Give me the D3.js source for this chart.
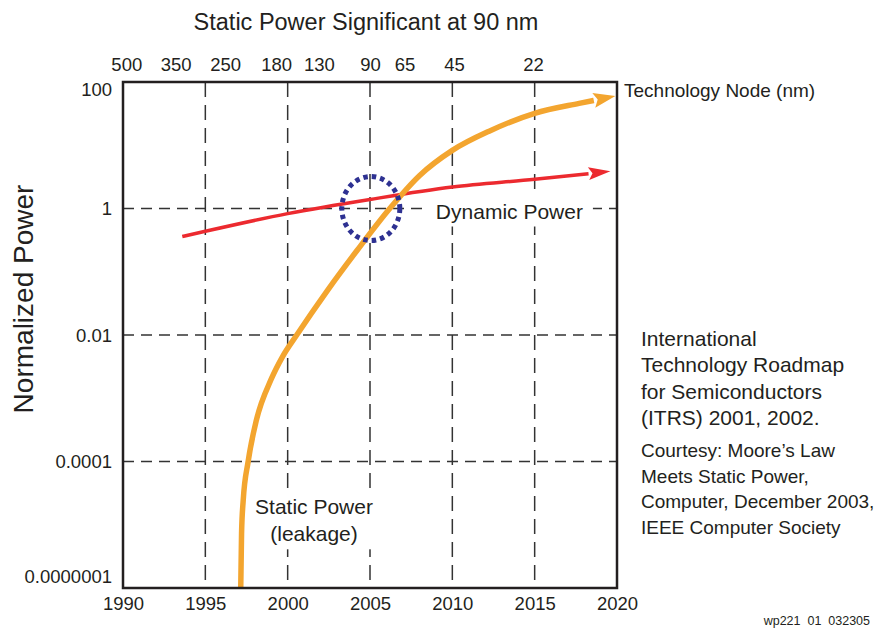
<!DOCTYPE html>
<html>
<head>
<meta charset="utf-8">
<script src="https://cdn.jsdelivr.net/npm/d3@7"></script>
<style>
  body { margin: 0; background: #fff; }
  text { font-family: "Liberation Sans", Arial, Helvetica, sans-serif; fill: #231f20; }
</style>
</head>
<body>
<script>
// data
let yearTicks = [1990, 1995, 2000, 2005, 2010, 2015, 2020];
let powerTicks = [1e-7, 1e-4, 1e-2, 1, 100];
let powerLabels = ["0.0000001", "0.0001", "0.01", "1", "100"];
let nodeLabels = ["500", "350", "250", "180", "130", "90", "65", "45", "22"];
let nodeYears = [1990.2, 1993.2, 1996.2, 1999.3, 2001.9, 2005, 2007.1, 2010.1, 2014.9];

let staticPower = [
    [1997.15, 1e-7], [1997.2, 2e-6], [1997.3, 1.2e-5], [1997.6, 1e-4],
    [1998.1, 4.5e-4], [1999.0, 2e-3], [1999.7, 4.6e-3], [2000.55, 0.01], [2002.4, 0.05], [2004.2, 0.215],
    [2006.2, 1], [2008.0, 3.3], [2010, 8.3], [2012.3, 17], [2015, 32], [2017.7, 46], [2019.9, 60]
];
let dynamicPower = [
    [1993.6, 0.36], [1995, 0.436], [2000, 0.83], [2005, 1.39], [2010, 2.18], [2015, 2.89], [2019.6, 3.87]
];

let SvgWidth = 878;
let SvgHeight = 629;

let Svg = d3.select("body")
    .append("svg")
    .attr("width", SvgWidth)
    .attr("height", SvgHeight);

let Plot = { Left: 123, Right: 617, Top: 82, Bottom: 588 };

let x = d3.scaleLinear()
    .domain([1990, 2020])
    .range([Plot.Left, Plot.Right]);

// the axis is not evenly logarithmic: each labelled tick is equally spaced
let y = d3.scaleLog()
    .domain(powerTicks)
    .range(d3.range(powerTicks.length).map(i => Plot.Bottom - i * (Plot.Bottom - Plot.Top) / (powerTicks.length - 1)));

let gridColor = "#333";

// vertical dashed grid
Svg.append("g")
    .selectAll("line")
    .data(yearTicks.slice(1, -1))
    .enter()
    .append("line")
    .attr("x1", d => x(d)).attr("x2", d => x(d))
    .attr("y1", Plot.Top).attr("y2", Plot.Bottom)
    .attr("stroke", gridColor)
    .attr("stroke-width", 1.5)
    .attr("stroke-dasharray", "15,8");

// horizontal dashed grid
Svg.append("g")
    .selectAll("line")
    .data(powerTicks.slice(1, -1))
    .enter()
    .append("line")
    .attr("x1", Plot.Left).attr("x2", Plot.Right)
    .attr("y1", d => y(d)).attr("y2", d => y(d))
    .attr("stroke", gridColor)
    .attr("stroke-width", 1.5)
    .attr("stroke-dasharray", "11,7");

// labels inside the plot sit on white patches that hide the grid
function boxedText(tx, ty, lines, size, anchor) {
    let g = Svg.append("g");
    let t = g.append("text")
        .attr("x", tx).attr("y", ty)
        .attr("text-anchor", anchor)
        .style("font-size", size + "px");
    lines.forEach((l, i) => {
        t.append("tspan").attr("x", tx).attr("dy", i == 0 ? 0 : "1.3em").text(l);
    });
    let bb = t.node().getBBox();
    g.insert("rect", "text")
        .attr("x", bb.x - 10).attr("y", bb.y - 4)
        .attr("width", bb.width + 20).attr("height", bb.height + 8)
        .attr("fill", "#fff");
}

boxedText(x(2009), y(1) + 10, ["Dynamic Power"], 21, "start");
boxedText(x(2001.6), 514, ["Static Power", "(leakage)"], 21, "middle");

// curves with arrow heads
function arrowCurve(data, color, width, headLen, headHalf) {
    let pts = data.map(d => [x(d[0]), y(d[1])]);
    let tip = pts[pts.length - 1];
    let prev = pts[pts.length - 2];
    let dx = tip[0] - prev[0], dy = tip[1] - prev[1];
    let len = Math.sqrt(dx * dx + dy * dy);
    let ux = dx / len, uy = dy / len;
    let base = [tip[0] - ux * headLen, tip[1] - uy * headLen];
    let linePts = pts.slice(0, -1).concat([base]);

    Svg.append("path")
        .attr("d", d3.line().curve(d3.curveMonotoneX)(linePts))
        .attr("fill", "none")
        .attr("stroke", color)
        .attr("stroke-width", width);

    Svg.append("path")
        .attr("d", `M${tip[0]},${tip[1]}L${base[0] - uy * headHalf},${base[1] + ux * headHalf}L${base[0] + ux * 4},${base[1] + uy * 4}L${base[0] + uy * headHalf},${base[1] - ux * headHalf}Z`)
        .attr("fill", color);
}

arrowCurve(dynamicPower, "#ec2a2f", 3.5, 22, 6.5);
arrowCurve(staticPower, "#f3a52f", 5.5, 22, 7.5);

// dotted ring round the crossing near 90 nm
Svg.append("ellipse")
    .attr("cx", x(2005.05))
    .attr("cy", y(1))
    .attr("rx", 29)
    .attr("ry", 32)
    .attr("fill", "none")
    .attr("stroke", "#2e3192")
    .attr("stroke-width", 5)
    .attr("stroke-dasharray", "4.5,4");

// frame
Svg.append("rect")
    .attr("x", Plot.Left).attr("y", Plot.Top)
    .attr("width", Plot.Right - Plot.Left)
    .attr("height", Plot.Bottom - Plot.Top)
    .attr("fill", "none")
    .attr("stroke", "#231f20")
    .attr("stroke-width", 2.5);

// bottom years
let BottomAxis = d3.axisBottom(x).tickValues(yearTicks).tickFormat(d3.format("d")).tickSize(0).tickPadding(9);
Svg.append("g")
    .attr("transform", `translate(0,${Plot.Bottom})`)
    .call(BottomAxis)
    .call(g => g.select(".domain").remove())
    .selectAll("text")
    .style("font-size", "18.5px")
    .attr("fill", "#231f20");

// top technology nodes
let nodeScale = d3.scaleOrdinal().domain(nodeLabels).range(nodeYears.map(x));
let TopAxis = d3.axisTop(nodeScale).tickSize(0).tickPadding(11);
Svg.append("g")
    .attr("transform", `translate(0,${Plot.Top})`)
    .call(TopAxis)
    .call(g => g.select(".domain").remove())
    .selectAll("text")
    .style("font-size", "18.5px")
    .attr("fill", "#231f20");

// left power ticks (end labels nudged inside the frame)
let nudge = { "100": 7, "0.0000001": -12 };
Svg.append("g")
    .selectAll("text")
    .data(powerTicks)
    .enter()
    .append("text")
    .attr("x", Plot.Left - 11)
    .attr("y", (d, i) => y(d) + 6.5 + (nudge[powerLabels[i]] || 0))
    .attr("text-anchor", "end")
    .style("font-size", "18.5px")
    .text((d, i) => powerLabels[i]);

// titles
Svg.append("text")
    .attr("x", 366).attr("y", 30)
    .attr("text-anchor", "middle")
    .style("font-size", "23.5px")
    .text("Static Power Significant at 90 nm");

Svg.append("text")
    .attr("transform", `translate(33,299) rotate(-90)`)
    .attr("text-anchor", "middle")
    .style("font-size", "28px")
    .text("Normalized Power");

Svg.append("text")
    .attr("x", 624).attr("y", 97)
    .style("font-size", "19px")
    .text("Technology Node (nm)");

// source note
let bigLines = ["International", "Technology Roadmap", "for Semiconductors", "(ITRS) 2001, 2002."];
let smallLines = ["Courtesy: Moore\u2019s Law", "Meets Static Power,", "Computer, December 2003,", "IEEE Computer Society"];
bigLines.forEach((l, i) => {
    Svg.append("text").attr("x", 641).attr("y", 346 + i * 26.3)
        .style("font-size", "21px").text(l);
});
smallLines.forEach((l, i) => {
    Svg.append("text").attr("x", 641).attr("y", 457 + i * 25.7)
        .style("font-size", "19px").text(l);
});

Svg.append("text")
    .attr("x", 870).attr("y", 625)
    .attr("text-anchor", "end")
    .style("font-size", "12.5px")
    .style("white-space", "pre")
    .text("wp221  01  032305");
</script>
</body>
</html>
